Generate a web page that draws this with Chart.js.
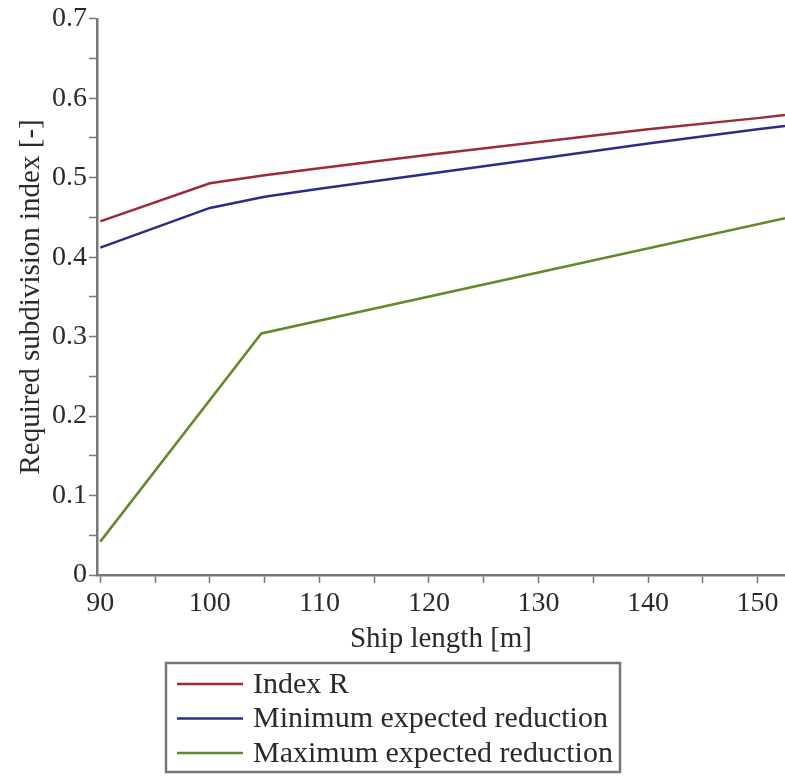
<!DOCTYPE html>
<html>
<head>
<meta charset="utf-8">
<script src="https://cdn.jsdelivr.net/npm/chart.js@4.4.1/dist/chart.umd.min.js"></script>
<style>
    html, body { margin: 0; padding: 0; background: #fff; }
</style>
</head>
<body>
<canvas id="chart" width="785" height="778"></canvas>
<script>
// series names and colours
const seriesNames = ['Index R', 'Minimum expected reduction', 'Maximum expected reduction'];
const seriesColors = ['#9c2a3a', '#2b2b8a', '#62892a'];

// values (ship length [m] -> index)
const indexRLength = [90, 100, 105, 110, 120, 130, 140, 150, 152.5];
const indexRValue = [0.445, 0.493, 0.503, 0.512, 0.529, 0.545, 0.561, 0.575, 0.579];
const minRedLength = [90, 100, 105, 110, 120, 130, 140, 150, 152.5];
const minRedValue = [0.412, 0.462, 0.476, 0.486, 0.505, 0.524, 0.543, 0.561, 0.565];
const maxRedLength = [90, 104.7, 152.5];
const maxRedValue = [0.042, 0.304, 0.449];

// axes
const xMin = 89.7, xMax = 152.5;
const yMin = 0, yMax = 0.7;
const xTickValues = [90, 95, 100, 105, 110, 115, 120, 125, 130, 135, 140, 145, 150];
const yTickValues = [0, 0.05, 0.1, 0.15, 0.2, 0.25, 0.3, 0.35, 0.4, 0.45, 0.5, 0.55, 0.6, 0.65, 0.7];

function points(xs, ys) {
    return xs.map((x, i) => ({ x: x, y: ys[i] }));
}

const serif = '"Liberation Serif", "Times New Roman", serif';
const axisColor = '#777';
const textColor = '#2a2a2a';

const boxLegend = {
    id: 'boxLegend',
    afterDraw(chart) {
        const ctx = chart.ctx;
        const left = 166, top = 663, width = 454, height = 109;
        ctx.save();
        ctx.strokeStyle = axisColor;
        ctx.lineWidth = 2.5;
        ctx.strokeRect(left, top, width, height);
        ctx.font = '30px ' + serif;
        ctx.textBaseline = 'middle';
        chart.data.datasets.forEach((ds, i) => {
            const y = top + 21 + i * 34.5;
            ctx.strokeStyle = ds.borderColor;
            ctx.lineWidth = 2.5;
            ctx.beginPath();
            ctx.moveTo(left + 11, y);
            ctx.lineTo(left + 77, y);
            ctx.stroke();
            ctx.fillStyle = textColor;
            ctx.fillText(ds.label, left + 87, y + 1);
        });
        ctx.restore();
    }
};

const lengths = [indexRLength, minRedLength, maxRedLength];
const values = [indexRValue, minRedValue, maxRedValue];

new Chart(document.getElementById('chart'), {
    type: 'line',
    data: {
        datasets: seriesNames.map((name, i) => ({
            label: name,
            data: points(lengths[i], values[i]),
            borderColor: seriesColors[i],
            borderWidth: 2.5,
            pointRadius: 0,
            tension: 0,
            fill: false,
        })),
    },
    options: {
        responsive: false,
        animation: false,
        layout: { padding: { top: 17, right: 0, bottom: 117, left: 0 } },
        plugins: { legend: { display: false }, tooltip: { enabled: false } },
        scales: {
            x: {
                type: 'linear',
                min: xMin,
                max: xMax,
                afterBuildTicks: (axis) => { axis.ticks = xTickValues.map((v) => ({ value: v })); },
                afterFit: (axis) => { axis.height = 86; },
                border: { color: axisColor, width: 2.5 },
                grid: { drawOnChartArea: false, color: axisColor, tickLength: 8, tickWidth: 1.5 },
                ticks: {
                    color: textColor,
                    font: { family: serif, size: 28 },
                    padding: 4,
                    maxRotation: 0,
                    autoSkip: false,
                    callback: (v) => (v % 10 === 0 ? String(v) : ''),
                },
                title: {
                    display: true,
                    text: 'Ship length [m]',
                    color: textColor,
                    font: { family: serif, size: 29 },
                    padding: { top: 4, bottom: 4 },
                },
            },
            y: {
                type: 'linear',
                min: yMin,
                max: yMax,
                afterBuildTicks: (axis) => { axis.ticks = yTickValues.map((v) => ({ value: v })); },
                afterFit: (axis) => { axis.width = 97; },
                border: { color: axisColor, width: 2.5 },
                grid: { drawOnChartArea: false, color: axisColor, tickLength: 8, tickWidth: 1.5 },
                ticks: {
                    color: textColor,
                    font: { family: serif, size: 28 },
                    padding: 2,
                    autoSkip: false,
                    callback: (v) => {
                        const r = Math.round(v * 100);
                        return r % 10 === 0 ? String(r / 100) : '';
                    },
                },
                title: {
                    display: true,
                    text: 'Required subdivision index [-]',
                    color: textColor,
                    font: { family: serif, size: 29 },
                    padding: { top: 14, bottom: 4 },
                },
            },
        },
    },
    plugins: [boxLegend],
});
</script>
</body>
</html>
